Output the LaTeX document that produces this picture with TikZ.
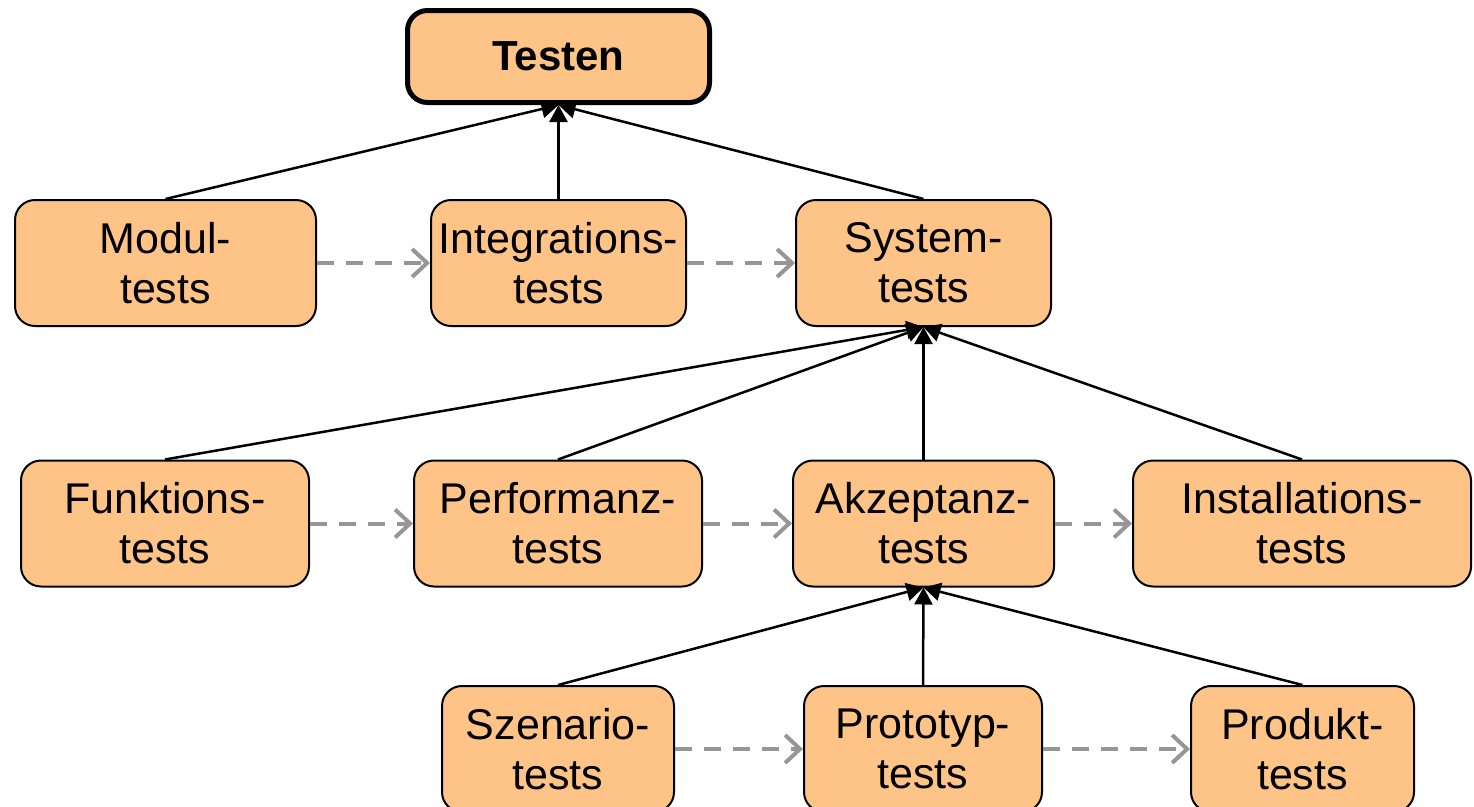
\documentclass[tikz,border=0pt]{standalone}
\usepackage{fontspec}
\setmainfont{Liberation Sans}
\usetikzlibrary{arrows.meta}
\definecolor{boxfill}{RGB}{254,195,134}
\definecolor{dashgray}{RGB}{150,150,150}
\begin{document}
\begin{tikzpicture}[x=1pt,y=-1pt,
  box/.style={draw=black, line width=2pt, fill=boxfill, rounded corners=20pt,
    minimum height=126pt, align=center, inner sep=0pt,
    font=\fontsize{43}{50}\selectfont},
  rootbox/.style={box, line width=5pt, minimum height=92pt, font=\fontsize{42}{48}\selectfont\bfseries},
  uparrow/.style={line width=2.5pt, -{Triangle[length=17pt,width=18pt]}},
  nextarrow/.style={line width=4pt, draw=dashgray, dash pattern=on 17pt off 12pt,
    -{Straight Barb[length=15pt,width=28pt,line width=4pt]}}
]
\clip (0,0) rectangle (1474,806);
\fill[white] (0,0) rectangle (1474,806);

\node[rootbox, minimum width=302pt] (testen) at (558.5,56.5) {Testen};

\node[box, minimum width=301pt] (modul) at (165.5,263) {Modul-\\tests};
\node[box, minimum width=255pt] (integ) at (558.5,263) {Integrations-\\tests};
\node[box, minimum width=255pt] (system) at (923.5,263) {System-\\tests};

\node[box, minimum width=288pt] (funk) at (165,523.5) {Funktions-\\tests};
\node[box, minimum width=288pt] (perf) at (558,523.5) {Performanz-\\tests};
\node[box, minimum width=261pt] (akz) at (923.5,523.5) {Akzeptanz-\\tests};
\node[box, minimum width=338pt] (inst) at (1302,523.5) {Installations-\\tests};

\node[box, minimum width=232pt] (szen) at (558,749) {Szenario-\\tests};
\node[box, minimum width=238pt] (proto) at (923,749) {Prototyp-\\tests};
\node[box, minimum width=223pt] (prod) at (1302.5,749) {Produkt-\\tests};

% hierarchy
\draw[uparrow] (modul.north) -- (testen.south);
\draw[uparrow] (system.north) -- (testen.south);
\draw[uparrow] (integ.north) -- (testen.south);

\draw[uparrow] (funk.north) -- (system.south);
\draw[uparrow] (perf.north) -- (system.south);
\draw[uparrow] (inst.north) -- (system.south);
\draw[uparrow] (akz.north) -- (system.south);

\draw[uparrow] (szen.north) -- (akz.south);
\draw[uparrow] (prod.north) -- (akz.south);
\draw[uparrow] (proto.north) -- (akz.south);

% sequence
\draw[nextarrow] (modul.east) -- (integ.west);
\draw[nextarrow] (integ.east) -- (system.west);
\draw[nextarrow] (funk.east) -- (perf.west);
\draw[nextarrow] (perf.east) -- (akz.west);
\draw[nextarrow] (akz.east) -- (inst.west);
\draw[nextarrow] (szen.east) -- (proto.west);
\draw[nextarrow] (proto.east) -- (prod.west);
\end{tikzpicture}
\end{document}
